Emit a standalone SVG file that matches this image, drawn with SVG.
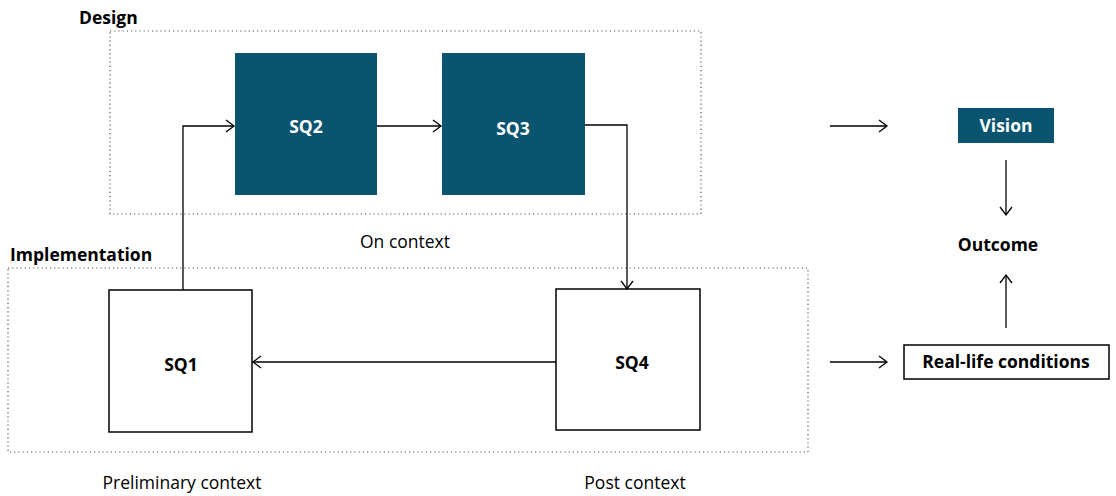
<svg xmlns="http://www.w3.org/2000/svg" width="1116" height="496" viewBox="0 0 1116 496">
<style>
text{font-family:"Open Sans","Liberation Sans",sans-serif;fill:#000}
.b{font-weight:bold;font-size:17.5px}
.n{font-size:17.5px}
.w{fill:#fff;font-weight:bold;font-size:17.5px}
.dark{fill:#0a546f}
.white{fill:#fff;stroke:#000;stroke-width:1.5}
.grp{fill:none;stroke:#555;stroke-width:1.2;stroke-dasharray:1.2 3}
.c{fill:none;stroke:#000;stroke-width:1.3}
</style>
<defs>
<marker id="ah" markerWidth="12" markerHeight="14" refX="10" refY="7" orient="auto" markerUnits="userSpaceOnUse">
<path d="M2,1 L10,7 L2,13" fill="none" stroke="#000" stroke-width="1.3"/>
</marker>
</defs>
<g id="design">
<rect class="grp" x="110" y="31" width="591" height="183"/>
<text class="b" x="79" y="24">Design</text>
<text class="n" x="405" y="248" text-anchor="middle">On context</text>
</g>
<g id="implementation">
<rect class="grp" x="8" y="268" width="800" height="184"/>
<text class="b" x="10" y="261">Implementation</text>
<text class="n" x="182" y="489" text-anchor="middle">Preliminary context</text>
<text class="n" x="635" y="489" text-anchor="middle">Post context</text>
</g>
<g id="sq2">
<rect class="dark" x="235" y="53" width="142" height="142"/>
<text class="w" x="306" y="133" text-anchor="middle">SQ2</text>
</g>
<g id="sq3">
<rect class="dark" x="442" y="53" width="143" height="142"/>
<text class="w" x="513" y="135" text-anchor="middle">SQ3</text>
</g>
<g id="sq1">
<rect class="white" x="109" y="290" width="143" height="142"/>
<text class="b" x="181" y="371" text-anchor="middle">SQ1</text>
</g>
<g id="sq4">
<rect class="white" x="556" y="289" width="144" height="141"/>
<text class="b" x="632" y="369" text-anchor="middle">SQ4</text>
</g>
<g id="vision">
<rect class="dark" x="958" y="108" width="96" height="35"/>
<text class="w" x="1006" y="132" text-anchor="middle">Vision</text>
</g>
<g id="outcome">
<text class="b" x="998" y="251" text-anchor="middle">Outcome</text>
</g>
<g id="reallife">
<rect class="white" x="904" y="345" width="205" height="34"/>
<text class="b" x="1006" y="368" text-anchor="middle">Real-life conditions</text>
</g>
<g id="connectors">
<path class="c" d="M183,290 V126 H234" marker-end="url(#ah)"/>
<path class="c" d="M377,126 H441" marker-end="url(#ah)"/>
<path class="c" d="M585,125 H627 V289" marker-end="url(#ah)"/>
<path class="c" d="M556,362 H253" marker-end="url(#ah)"/>
<path class="c" d="M830,126 H887" marker-end="url(#ah)"/>
<path class="c" d="M830,362 H887" marker-end="url(#ah)"/>
<path class="c" d="M1006,160 V215" marker-end="url(#ah)"/>
<path class="c" d="M1006,328 V275" marker-end="url(#ah)"/>
</g>
</svg>
